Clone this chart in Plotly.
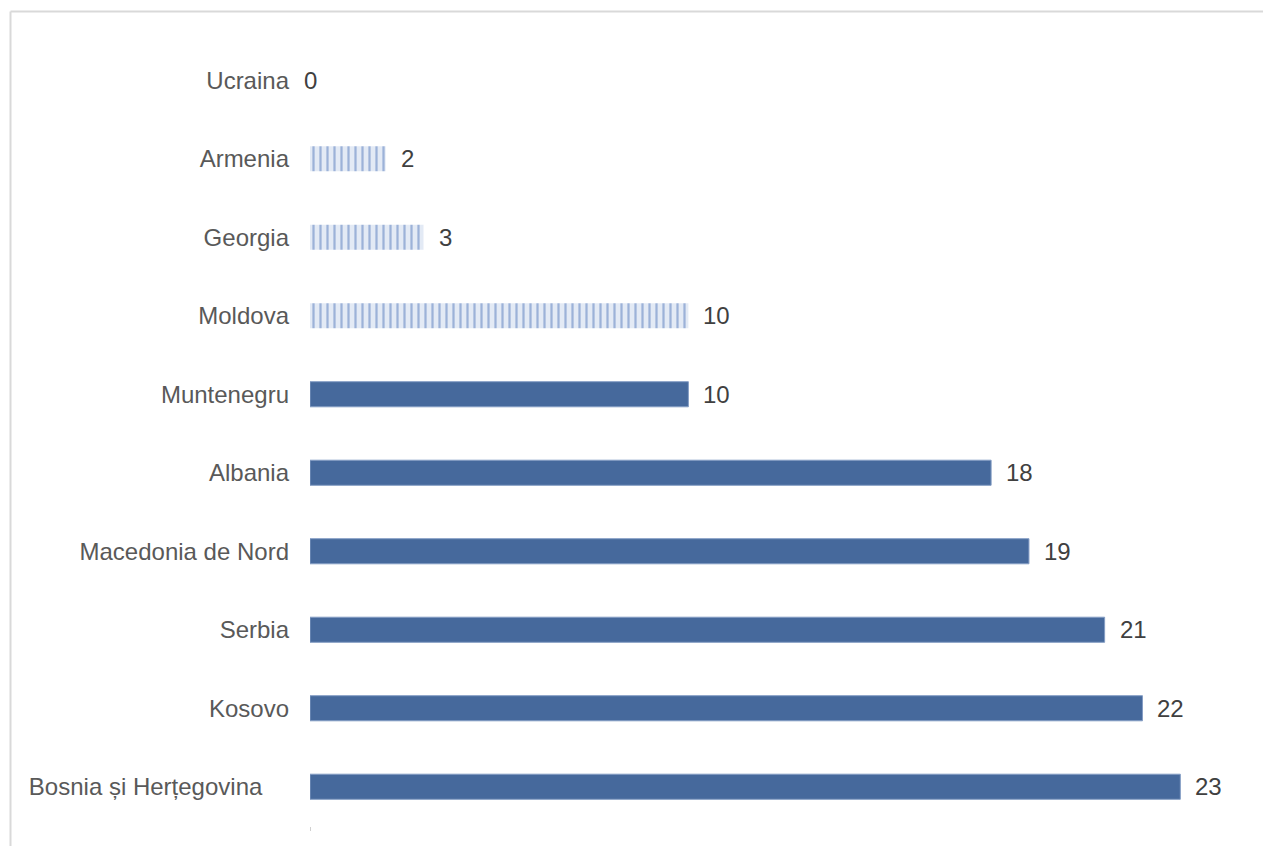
import plotly.graph_objects as go

# Data (top to bottom as shown)
countries = ["Ucraina", "Armenia", "Georgia", "Moldova", "Muntenegru", "Albania",
             "Macedonia de Nord", "Serbia", "Kosovo", "Bosnia și Herțegovina"]
values = [0, 2, 3, 10, 10, 18, 19, 21, 22, 23]
patterned = [True, True, True, True, False, False, False, False, False, False]

# tick labels (Bosnia label sits slightly further left in the original)
tick_labels = [c if c != "Bosnia și Herțegovina" else c + "\u00a0\u00a0\u00a0\u00a0" for c in countries]

pat_x = [v for v, p in zip(values, patterned) if p]
pat_y = [c for c, p in zip(countries, patterned) if p]
sol_x = [v for v, p in zip(values, patterned) if not p]
sol_y = [c for c, p in zip(countries, patterned) if not p]

FONT = "Liberation Sans, Arial, sans-serif"

fig = go.Figure()
fig.add_trace(go.Bar(
    x=pat_x, y=pat_y, orientation="h", width=0.32,
    marker=dict(color="#dde6f3", line=dict(width=0),
                pattern=dict(shape="|", size=7, solidity=0.32,
                             fgcolor="#9cb2d8", bgcolor="#e3eaf5", fillmode="replace")),
    showlegend=False, hoverinfo="x+y"))
fig.add_trace(go.Bar(
    x=sol_x, y=sol_y, orientation="h", width=0.32,
    marker=dict(color="#46699c", line=dict(width=1, color="#849dc4")),
    showlegend=False, hoverinfo="x+y"))

# value labels
for c, v in zip(countries, values):
    fig.add_annotation(x=v, y=c, text=str(v), showarrow=False,
                       xanchor="center" if v == 0 else "left",
                       xshift=0 if v == 0 else 13,
                       font=dict(family=FONT, size=24, color="#404040"))

# outer frame: top and left edges only (plot area spans page px 310..1256 x 41..826)
fx0 = (10.5 - 310) / 946
fy1 = (826 - 11.5) / 785
fig.add_shape(type="line", xref="paper", yref="paper",
              x0=fx0, x1=(1300 - 310) / 946, y0=fy1, y1=fy1,
              line=dict(color="#d9d9d9", width=2), layer="below")
fig.add_shape(type="line", xref="paper", yref="paper",
              x0=fx0, x1=fx0, y0=(826 - 880) / 785, y1=fy1,
              line=dict(color="#d9d9d9", width=2), layer="below")

fig.update_layout(
    width=1263, height=838,
    margin=dict(l=302, r=15, t=33, b=20, pad=0),
    paper_bgcolor="white", plot_bgcolor="white",
    barmode="overlay",
    font=dict(family=FONT, size=24, color="#595959"),
    xaxis=dict(range=[0, 25], showgrid=False, zeroline=False, showline=False,
               tickvals=[0], ticks="outside", ticklen=4, tickcolor="#d0d0d0",
               showticklabels=False, fixedrange=True),
    yaxis=dict(categoryorder="array", categoryarray=countries,
               tickvals=countries, ticktext=tick_labels,
               autorange="reversed", showgrid=False, zeroline=False, showline=False,
               ticks="", ticklabelstandoff=20,
               tickfont=dict(family=FONT, size=24, color="#595959")),
)

fig.write_html("out.html")
